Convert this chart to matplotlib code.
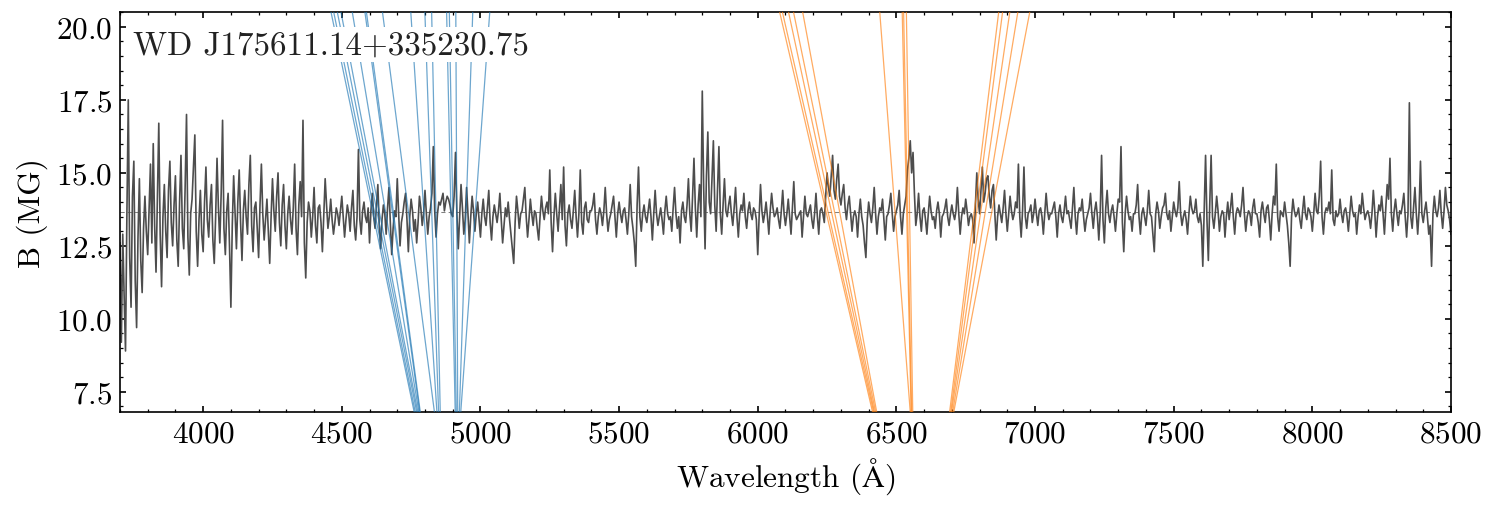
import numpy as np
import matplotlib
matplotlib.use("Agg")
import matplotlib.pyplot as plt

# spectrum, sampled every 5 A from 3700 to 8500, already scaled into B units
wave_start = 3700
wave_step = 5
flux = [
    12.6, 9.2, 12.9, 10.8, 8.9, 13.6, 17.5, 12.1, 10.4, 14.2, 15.4, 11.3, 9.7, 12.8, 14.8, 12.0, 10.9, 13.1, 14.2, 13.0,
    12.2, 13.8, 15.3, 12.6, 16.0, 13.2, 11.6, 14.1, 16.7, 12.9, 11.1, 13.5, 14.6, 13.0, 12.1, 14.4, 15.4, 13.3, 12.5, 13.9,
    14.9, 12.7, 11.8, 14.0, 15.6, 13.1, 12.4, 14.5, 17.0, 12.8, 11.5, 13.6, 14.1, 15.2, 16.3, 13.0, 11.8, 13.4, 14.4, 12.9,
    12.3, 14.0, 15.2, 13.4, 12.8, 13.9, 14.6, 12.7, 11.9, 13.5, 15.5, 13.8, 12.6, 14.3, 16.8, 13.1, 12.2, 13.7, 14.3, 12.5,
    10.4, 13.2, 14.9, 13.6, 12.4, 14.0, 15.1, 13.3, 12.0, 13.7, 14.4, 13.5, 12.9, 14.6, 15.6, 13.2, 12.3, 13.8, 14.0, 13.1,
    12.1, 13.9, 15.3, 13.6, 12.7, 13.4, 14.1, 13.0, 11.9, 13.5, 14.8, 13.7, 13.0, 14.2, 15.0, 13.3, 12.5, 13.9, 14.6, 13.2,
    12.4, 13.6, 14.2, 13.4, 12.9, 13.8, 15.3, 13.1, 12.2, 13.9, 14.7, 13.5, 16.8, 12.6, 11.4, 13.3, 14.0, 13.7, 12.8, 13.5,
    14.5, 13.2, 12.6, 13.8, 13.9, 13.3, 12.3, 13.6, 14.8, 13.9, 13.1, 13.5, 14.1, 13.4, 12.9, 13.3, 13.8, 13.6, 13.2, 13.7,
    14.2, 13.5, 12.8, 13.4, 13.9, 13.6, 13.0, 13.8, 14.4, 13.2, 12.7, 13.5, 15.8, 13.4, 12.9, 13.7, 14.0, 13.5, 13.3, 13.8,
    12.6, 13.7, 14.3, 13.5, 13.1, 13.9, 14.6, 13.2, 12.4, 13.4, 13.9, 13.6, 12.9, 13.8, 14.5, 13.3, 12.2, 13.1, 13.7, 13.5,
    14.8, 13.6, 12.5, 13.3, 13.6, 14.0, 14.3, 13.4, 12.3, 13.5, 14.1, 13.7, 13.0, 13.4, 12.6, 13.3, 14.2, 13.8, 13.2, 13.6,
    14.4, 13.6, 12.9, 13.5, 13.8, 14.3, 15.9, 13.7, 12.8, 13.6, 14.0, 13.9, 14.1, 14.3, 13.7, 14.0, 14.2, 14.1, 13.9, 13.6,
    13.5, 14.2, 15.7, 13.6, 12.4, 13.5, 14.6, 13.8, 12.9, 13.4, 14.5, 13.6, 12.6, 13.5, 14.2, 13.7, 13.0, 13.6, 14.0, 13.4,
    12.8, 13.6, 14.1, 13.5, 13.2, 13.8, 14.4, 13.3, 12.7, 13.5, 13.9, 13.6, 13.3, 13.7, 14.3, 13.4, 12.6, 13.2, 13.8, 13.5,
    14.0, 13.4, 12.9, 12.4, 11.9, 13.3, 14.2, 13.7, 13.1, 13.6, 13.7, 14.1, 14.5, 13.5, 12.8, 13.4, 14.1, 13.6, 13.2, 13.7,
    13.6, 13.1, 12.7, 13.5, 14.2, 13.7, 13.4, 13.8, 14.0, 13.6, 15.1, 13.3, 12.3, 13.5, 14.3, 13.6, 13.0, 13.8, 14.6, 13.4,
    15.2, 13.2, 12.5, 13.6, 13.9, 13.4, 13.1, 13.7, 14.4, 13.5, 12.8, 13.6, 15.1, 13.3, 12.9, 13.8, 14.0, 13.4, 13.3, 13.7,
    13.7, 13.9, 14.3, 13.4, 12.9, 13.5, 13.8, 13.6, 13.2, 13.7, 14.5, 13.6, 13.0, 13.4, 13.6, 13.9, 14.2, 13.5, 12.8, 13.6,
    14.0, 13.6, 13.3, 13.7, 13.8, 13.4, 12.9, 13.6, 14.6, 13.5, 13.1, 12.6, 11.8, 13.9, 15.2, 13.5, 13.0, 13.6, 13.9, 13.5,
    13.3, 13.7, 14.1, 13.5, 12.7, 13.6, 14.4, 13.6, 13.2, 13.5, 13.8, 13.4, 12.9, 13.7, 14.2, 13.6, 13.4, 13.5, 13.0, 13.8,
    14.5, 13.6, 13.1, 13.5, 12.6, 13.7, 14.0, 13.5, 13.3, 13.9, 14.8, 13.6, 13.0, 14.2, 15.5, 13.8, 12.8, 13.9, 14.6, 13.5,
    17.8, 14.5, 12.4, 14.9, 16.4, 14.0, 13.6, 14.8, 16.1, 13.9, 13.0, 14.5, 15.9, 13.6, 12.9, 13.9, 14.8, 13.7, 13.5, 13.9,
    14.2, 13.6, 13.2, 13.8, 14.5, 13.5, 12.8, 13.6, 13.9, 13.7, 14.3, 13.5, 13.1, 13.7, 14.0, 13.6, 13.4, 13.8, 13.7, 13.4,
    12.2, 13.5, 14.6, 13.7, 13.3, 13.6, 14.0, 13.5, 12.9, 13.7, 14.3, 13.8, 13.5, 13.6, 13.8, 13.4, 13.1, 13.7, 14.4, 13.6,
    13.2, 13.6, 14.1, 13.5, 12.9, 13.8, 14.7, 13.6, 13.4, 13.5, 13.6, 13.7, 12.8, 13.5, 14.2, 13.6, 13.5, 13.7, 13.9, 13.4,
    13.1, 13.6, 14.3, 13.5, 12.9, 13.7, 13.8, 13.6, 13.3, 14.2, 15.0, 14.5, 14.2, 14.9, 15.6, 14.4, 14.1, 14.8, 15.3, 14.2,
    13.9, 14.3, 14.6, 13.8, 13.4, 13.9, 14.2, 13.6, 13.0, 13.5, 13.7, 13.5, 12.8, 13.6, 14.1, 13.5, 13.2, 12.6, 12.1, 13.4,
    14.0, 13.6, 13.3, 13.8, 14.5, 13.6, 12.9, 13.5, 13.8, 13.7, 14.1, 13.4, 12.7, 13.5, 13.6, 13.9, 14.3, 13.6, 13.0, 13.5,
    13.7, 13.9, 14.4, 13.5, 12.9, 13.6, 13.9, 14.2, 15.1, 15.5, 16.1, 15.0, 15.7, 14.3, 13.2, 13.6, 14.3, 13.5, 13.0, 13.7,
    13.8, 13.4, 12.9, 13.6, 14.2, 13.7, 13.4, 13.5, 13.1, 13.7, 14.0, 13.6, 12.8, 13.5, 13.6, 13.8, 14.1, 13.5, 13.2, 13.6,
    13.9, 13.6, 13.4, 13.7, 14.5, 13.6, 12.9, 13.5, 13.8, 13.6, 14.1, 13.7, 13.2, 13.5, 13.6, 13.4, 12.6, 13.9, 15.0, 14.1,
    13.6, 14.4, 15.2, 14.0, 14.3, 14.8, 14.9, 14.2, 13.8, 14.4, 14.6, 13.6, 12.7, 13.5, 13.9, 13.6, 13.3, 13.8, 14.4, 13.6,
    13.0, 13.6, 14.2, 13.7, 13.4, 13.6, 14.0, 13.8, 15.3, 13.5, 12.8, 13.7, 15.2, 13.5, 13.1, 13.6, 13.7, 13.9, 13.3, 13.6,
    14.1, 13.6, 13.2, 13.7, 13.8, 13.5, 12.9, 13.6, 14.3, 13.7, 13.4, 13.6, 13.6, 13.8, 14.0, 13.5, 12.8, 13.6, 13.9, 13.5,
    13.3, 13.7, 14.2, 13.6, 13.7, 13.4, 13.1, 13.8, 14.5, 13.5, 12.9, 13.6, 13.8, 13.7, 14.1, 13.5, 13.0, 13.4, 13.6, 13.8,
    14.3, 13.6, 13.1, 13.7, 14.0, 13.5, 12.7, 13.6, 15.6, 13.4, 12.6, 13.8, 14.4, 13.6, 13.3, 13.7, 13.9, 13.5, 13.0, 13.6,
    14.1, 14.0, 15.9, 13.3, 12.3, 13.6, 14.2, 13.7, 13.4, 13.5, 13.0, 13.6, 13.6, 13.9, 14.6, 13.5, 12.9, 13.6, 13.8, 13.5,
    13.2, 13.7, 14.4, 13.6, 13.5, 12.9, 12.3, 13.6, 14.0, 13.7, 13.1, 13.5, 13.8, 13.9, 14.3, 13.6, 13.4, 13.7, 13.0, 13.5,
    14.0, 13.7, 13.5, 13.8, 14.7, 13.6, 13.2, 13.5, 13.7, 13.4, 12.9, 13.6, 14.2, 13.8, 13.6, 13.7, 14.1, 13.5, 13.3, 13.6,
    13.2, 11.8, 13.7, 15.6, 13.4, 12.0, 13.9, 15.6, 13.5, 13.1, 13.6, 14.2, 13.7, 13.0, 13.5, 13.7, 13.6, 12.8, 13.5, 14.0,
    13.4, 13.8, 14.3, 13.5, 12.9, 13.6, 13.8, 13.7, 13.5, 13.9, 14.5, 13.6, 13.0, 13.5, 13.7, 13.6, 13.2, 13.8, 14.1, 13.6,
    13.6, 13.3, 12.8, 13.7, 14.0, 13.6, 13.3, 13.8, 13.9, 13.4, 12.7, 13.6, 14.2, 13.9, 15.3, 13.5, 13.0, 13.7, 13.6, 13.5,
    14.0, 13.6, 13.2, 12.6, 11.8, 13.5, 14.1, 13.7, 13.5, 13.6, 13.8, 13.4, 13.1, 13.7, 14.2, 13.6, 13.4, 13.8, 13.7, 13.5,
    13.0, 13.6, 14.3, 13.7, 13.6, 14.2, 15.4, 13.5, 12.9, 13.6, 13.8, 13.7, 14.0, 13.6, 15.1, 13.4, 13.2, 13.7, 13.5, 13.6,
    14.1, 13.6, 13.3, 13.7, 13.8, 13.5, 13.0, 13.6, 14.2, 13.7, 13.5, 13.6, 12.9, 13.5, 13.9, 13.6, 14.3, 13.8, 13.4, 13.6,
    13.7, 13.5, 13.1, 13.6, 14.4, 13.7, 12.8, 13.5, 13.9, 13.7, 14.2, 13.6, 12.9, 13.8, 14.6, 14.1, 15.5, 13.6, 13.0, 13.7,
    14.1, 13.6, 13.2, 13.7, 13.6, 13.9, 14.3, 13.5, 12.8, 13.6, 17.4, 13.5, 13.1, 13.8, 14.5, 13.6, 12.9, 13.7, 15.4, 13.6,
    13.3, 13.7, 14.0, 13.5, 12.9, 13.2, 11.8, 13.6, 14.2, 13.7, 13.5, 13.8, 14.4, 13.6, 13.1, 13.7, 14.5, 13.9, 13.7, 13.4,
    12.9,
]
flux_level = 13.65

# Zeeman components: wavelength (A) at two field strengths (MG)
hb_b = [6.81, 18.73]
hb_lam_lo = [4761, 4765, 4770, 4774, 4778, 4781, 4783,
             4834, 4843, 4849, 4855,
             4909, 4913, 4918, 4924, 4929]
hb_lam_hi = [4500, 4509, 4521, 4533, 4569, 4609, 4614,
             4671, 4761, 4806, 4828,
             4882, 4891, 4912, 4966, 5020]

ha_b = [6.81, 20.51]
ha_lam_lo = [6414, 6418, 6421, 6425, 6429,
             6550, 6553, 6555, 6559,
             6692, 6696, 6699, 6703, 6707]
ha_lam_hi = [6079, 6089, 6111, 6129, 6162,
             6440, 6521, 6526, 6536,
             6869, 6883, 6909, 6938, 6981]

star_name = "WD J175611.14+335230.75"

plt.rcParams["font.family"] = "serif"
plt.rcParams["font.serif"] = ["cmr10", "DejaVu Serif"]
plt.rcParams["mathtext.fontset"] = "cm"
plt.rcParams["axes.formatter.use_mathtext"] = True
plt.rcParams["font.size"] = 15


def component_lines(ax, b_pts, lam_lo, lam_hi, color):
    b_plot = np.array([5.0, 22.0])
    for lo, hi in zip(lam_lo, lam_hi):
        slope = (hi - lo) / (b_pts[1] - b_pts[0])
        lam = lo + slope * (b_plot - b_pts[0])
        ax.plot(lam, b_plot, color=color, lw=0.6, alpha=0.65, zorder=3)


def main():
    wave = wave_start + wave_step * np.arange(len(flux))

    fig = plt.figure(figsize=(9.96, 3.4133), dpi=150)
    ax = fig.add_axes([0.0803, 0.1934, 0.8909, 0.7812])

    ax.plot(wave, flux, color="#4d4d4d", lw=0.8, zorder=2)
    ax.axhline(flux_level, color="gray", lw=0.5, ls=(0, (4, 3)), zorder=1)

    component_lines(ax, hb_b, hb_lam_lo, hb_lam_hi, "#1f77b4")
    component_lines(ax, ha_b, ha_lam_lo, ha_lam_hi, "#ff7f0e")

    ax.text(0.01, 0.955, star_name, transform=ax.transAxes, fontsize=15.9,
            va="top", ha="left", zorder=5, color="#222222",
            bbox=dict(facecolor="white", edgecolor="none", pad=1.5))

    ax.set_xlim(3700, 8500)
    ax.set_ylim(6.81, 20.51)
    ax.set_xticks(np.arange(4000, 8501, 500))
    ax.set_xticks(np.arange(3700, 8501, 100), minor=True)
    ax.set_yticks([7.5, 10.0, 12.5, 15.0, 17.5, 20.0])
    ax.set_yticks(np.arange(7.0, 20.6, 0.5), minor=True)
    ax.tick_params(which="both", direction="in", top=True, right=True)
    ax.tick_params(which="major", length=3, width=0.8)
    ax.tick_params(which="minor", length=1.5, width=0.6)
    for sp in ax.spines.values():
        sp.set_linewidth(0.8)

    ax.set_xlabel(r"Wavelength ($\mathrm{\AA}$)", labelpad=4)
    ax.set_ylabel("B (MG)")

    fig.savefig("out.png", dpi=150)


if __name__ == "__main__":
    main()
